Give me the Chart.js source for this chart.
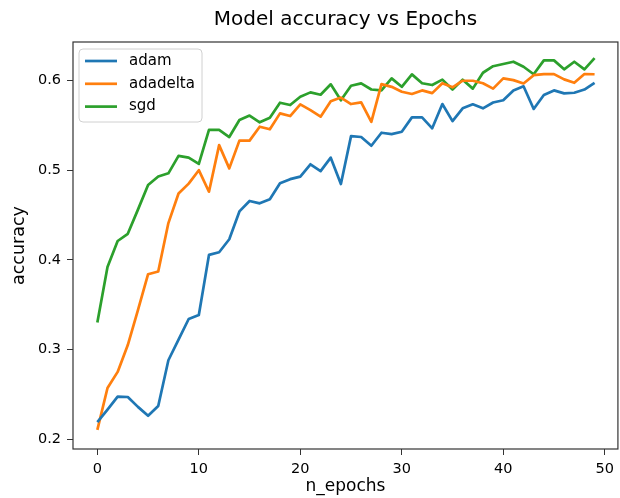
<!DOCTYPE html>
<html>
<head>
<meta charset="utf-8">
<script src="https://cdn.jsdelivr.net/npm/chart.js@4"></script>
<style>
  body { margin: 0; background: #fff; }
</style>
</head>
<body>
<canvas id="accChart" width="620" height="498"></canvas>
<script>
const epochs = [];
for (let i = 0; i < 50; i++) epochs.push(i);

const adam = [0.219, 0.233, 0.2475, 0.247, 0.236, 0.226, 0.237, 0.288, 0.311, 0.334,
  0.3385, 0.4055, 0.4085, 0.423, 0.454, 0.4657, 0.463, 0.4675, 0.4854, 0.490,
  0.4928, 0.5066, 0.499, 0.514, 0.4846, 0.538, 0.537, 0.5273, 0.5418, 0.5403,
  0.5429, 0.5589, 0.5589, 0.5467, 0.5738, 0.5548, 0.569, 0.5735, 0.569, 0.5755,
  0.578, 0.589, 0.5936, 0.5683, 0.5839, 0.589, 0.5857, 0.5864, 0.590, 0.5975];

const adadelta = [0.2104, 0.257, 0.275, 0.305, 0.344, 0.384, 0.387, 0.441, 0.474, 0.485,
  0.500, 0.476, 0.528, 0.502, 0.533, 0.533, 0.5485, 0.5456, 0.5634, 0.5604,
  0.5735, 0.567, 0.5597, 0.577, 0.581, 0.5738, 0.5757, 0.554, 0.596, 0.593,
  0.5875, 0.585, 0.589, 0.586, 0.597, 0.5924, 0.5998, 0.5998, 0.597, 0.591,
  0.6024, 0.6005, 0.5967, 0.606, 0.6072, 0.6072, 0.6013, 0.5975, 0.6072, 0.607];

const sgd = [0.330, 0.392, 0.421, 0.429, 0.456, 0.4835, 0.493, 0.4965, 0.516, 0.514,
  0.507, 0.545, 0.545, 0.537, 0.556, 0.561, 0.5534, 0.5585, 0.5753, 0.5727,
  0.582, 0.5868, 0.5842, 0.5958, 0.578, 0.5942, 0.5968, 0.590, 0.589, 0.6024,
  0.593, 0.6069, 0.597, 0.595, 0.601, 0.590, 0.601, 0.591, 0.6087, 0.616,
  0.6184, 0.621, 0.6154, 0.607, 0.6225, 0.6225, 0.6125, 0.621, 0.6125, 0.625];

const xTicks = [0, 10, 20, 30, 40, 50];
const yTicks = [0.2, 0.3, 0.4, 0.5, 0.6];

const FONT = "'DejaVu Sans', sans-serif";
const AXIS = "#333";

function points(values) {
  return values.map((v, i) => ({ x: epochs[i], y: v }));
}

// frame round the plot and the matplotlib style legend box
const framePlugin = {
  id: "frame",
  afterDatasetsDraw(chart) {
    const ctx = chart.ctx;
    const a = chart.chartArea;
    ctx.save();
    ctx.strokeStyle = AXIS;
    ctx.lineWidth = 1.2;
    ctx.strokeRect(a.left, a.top, a.right - a.left, a.bottom - a.top);

    const bx = a.left + 6, by = a.top + 7, bw = 123, bh = 73;
    ctx.beginPath();
    ctx.roundRect(bx, by, bw, bh, 4);
    ctx.fillStyle = "rgba(255,255,255,0.8)";
    ctx.fill();
    ctx.strokeStyle = "#d0d0d0";
    ctx.lineWidth = 1;
    ctx.stroke();

    ctx.font = "15px " + FONT;
    ctx.textBaseline = "middle";
    chart.data.datasets.forEach((ds, i) => {
      const y = by + 12 + i * 22.8;
      ctx.beginPath();
      ctx.moveTo(bx + 6, y);
      ctx.lineTo(bx + 38, y);
      ctx.strokeStyle = ds.borderColor;
      ctx.lineWidth = 2.7;
      ctx.stroke();
      ctx.fillStyle = "#000";
      ctx.fillText(ds.label, bx + 50, y);
    });
    ctx.restore();
  }
};

new Chart(document.getElementById("accChart").getContext("2d"), {
  type: "line",
  data: {
    datasets: [
      { label: "adam", data: points(adam), borderColor: "#1f77b4" },
      { label: "adadelta", data: points(adadelta), borderColor: "#ff7f0e" },
      { label: "sgd", data: points(sgd), borderColor: "#2ca02c" }
    ]
  },
  options: {
    responsive: false,
    animation: false,
    layout: { padding: { left: 0, right: 1, top: 0, bottom: 0 } },
    elements: {
      point: { radius: 0 },
      line: { borderWidth: 2.7, tension: 0, borderJoinStyle: "round", fill: false }
    },
    plugins: {
      legend: { display: false },
      tooltip: { enabled: false },
      title: {
        display: true,
        text: "Model accuracy vs Epochs",
        fullSize: false,
        color: "#000",
        font: { family: FONT, size: 20, weight: "normal" },
        padding: { top: 8, bottom: 10 }
      }
    },
    scales: {
      x: {
        type: "linear",
        min: -2.4,
        max: 51.3,
        afterBuildTicks: (s) => { s.ticks = xTicks.map(v => ({ value: v })); },
        afterFit: (s) => { s.height = 49; },
        grid: { drawOnChartArea: false, drawTicks: true, tickLength: 6, color: AXIS },
        border: { display: false },
        ticks: { color: "#000", padding: 6, maxRotation: 0, font: { family: FONT, size: 14.5 } },
        title: {
          display: true, text: "n_epochs", color: "#000",
          font: { family: FONT, size: 17 }, padding: { top: 0, bottom: 1 }
        }
      },
      y: {
        min: 0.189,
        max: 0.643,
        afterBuildTicks: (s) => { s.ticks = yTicks.map(v => ({ value: v })); },
        afterFit: (s) => { s.width = 73; },
        grid: { drawOnChartArea: false, drawTicks: true, tickLength: 6, color: AXIS },
        border: { display: false },
        ticks: {
          color: "#000", padding: 6, font: { family: FONT, size: 14.5 },
          callback: (v) => v.toFixed(1)
        },
        title: {
          display: true, text: "accuracy", color: "#000",
          font: { family: FONT, size: 17.5 }, padding: { top: 9, bottom: 0 }
        }
      }
    }
  },
  plugins: [framePlugin]
});
</script>
</body>
</html>
